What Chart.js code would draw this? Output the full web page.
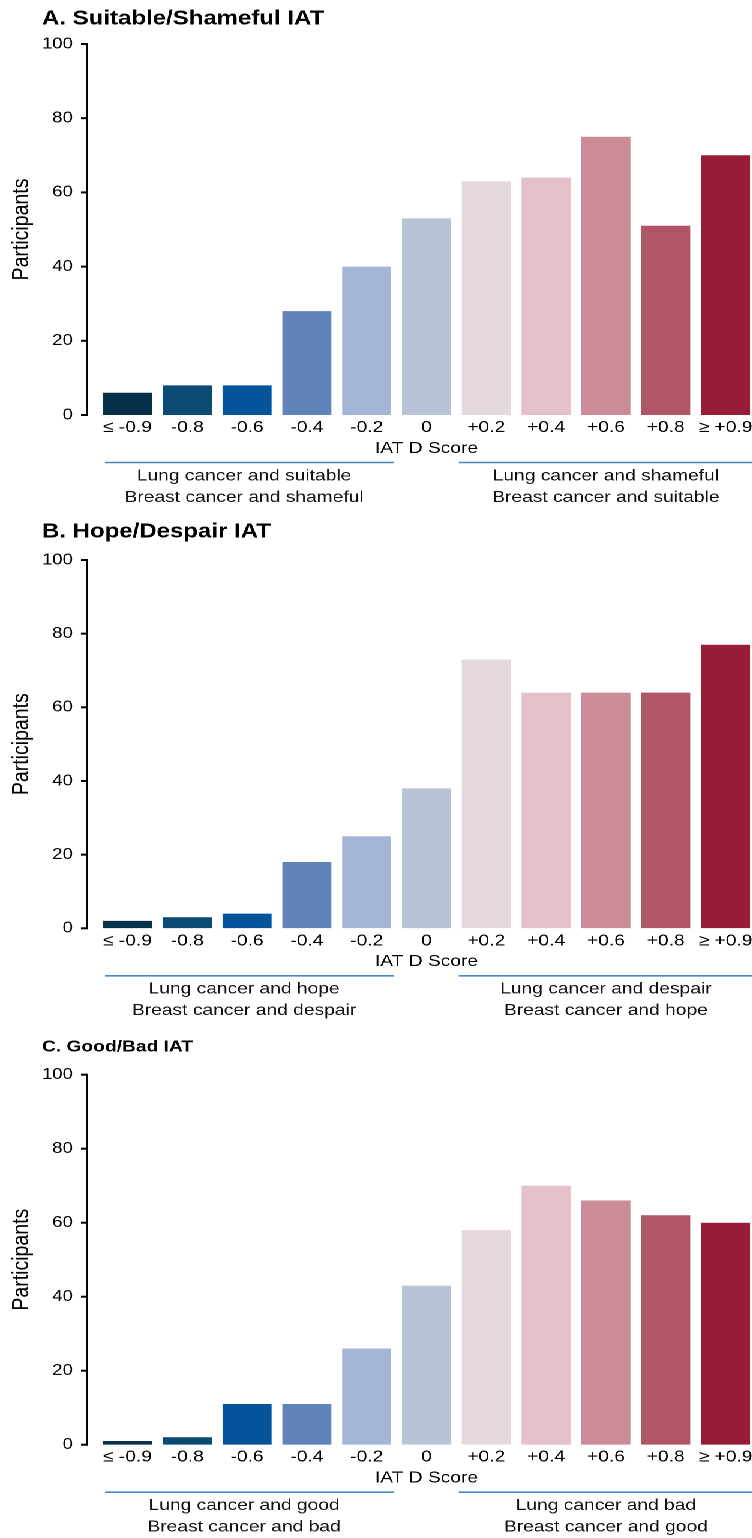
<!DOCTYPE html>
<html>
<head>
<meta charset="utf-8">
<script src="https://cdn.jsdelivr.net/npm/chart.js@4.4.1/dist/chart.umd.min.js"></script>
<style>
html,body{margin:0;padding:0;background:#fff;overflow:hidden;width:752px;height:1538px;}
#wrap{position:absolute;left:0;top:0;width:630px;transform:scaleX(1.2);transform-origin:0 0;}
canvas{display:block;}
</style>
</head>
<body>
<div id="wrap">
<canvas id="cA" width="630" height="512"></canvas>
<canvas id="cB" width="630" height="518"></canvas>
<canvas id="cC" width="630" height="508"></canvas>
</div>
<script>
// ---- data ----
const categories = ['\u2264 -0.9', '-0.8', '-0.6', '-0.4', '-0.2', '0', '+0.2', '+0.4', '+0.6', '+0.8', '\u2265 +0.9'];
const barColors = ['#07304a', '#0b4a72', '#03549a', '#5f83b8', '#a3b6d8', '#b9c3d6', '#e6d9dd', '#e4c0c8', '#cb8b98', '#b05566', '#971c37'];
const suitableShameful = [6, 8, 8, 28, 40, 53, 63, 64, 75, 51, 70];
const hopeDespair = [2, 3, 4, 18, 25, 38, 73, 64, 64, 64, 77];
const goodBad = [1, 2, 11, 11, 26, 43, 58, 70, 66, 62, 60];
const yMin = 0, yMax = 100, yStep = 20;
const xAxisTitle = 'IAT D Score';
const yAxisTitle = 'Participants';
const titleA = 'A. Suitable/Shameful IAT';
const titleB = 'B. Hope/Despair IAT';
const titleC = 'C. Good/Bad IAT';
const groupsA = [['Lung cancer and suitable', 'Breast cancer and shameful'], ['Lung cancer and shameful', 'Breast cancer and suitable']];
const groupsB = [['Lung cancer and hope', 'Breast cancer and despair'], ['Lung cancer and despair', 'Breast cancer and hope']];
const groupsC = [['Lung cancer and good', 'Breast cancer and bad'], ['Lung cancer and bad', 'Breast cancer and good']];

const FAMILY = '"Liberation Sans", Arial, Helvetica, sans-serif';

const decor = {
  id: 'decor',
  afterDraw(chart, args, o) {
    const {ctx, chartArea, scales} = chart;
    const x = scales.x, y = scales.y;
    ctx.save();
    // panel title
    ctx.fillStyle = '#000';
    ctx.font = o.titleFont;
    ctx.textAlign = 'left';
    ctx.textBaseline = 'middle';
    ctx.fillText(o.title, 35, o.titleY);
    // y axis line + ticks
    const ax = chartArea.left - 8.8;
    const yTop = y.getPixelForValue(yMax), yBot = y.getPixelForValue(yMin);
    ctx.strokeStyle = '#000';
    ctx.lineWidth = 1.7;
    ctx.beginPath(); ctx.moveTo(ax, yTop - 1); ctx.lineTo(ax, yBot + 1); ctx.stroke();
    ctx.lineWidth = 2;
    y.ticks.forEach(t => {
      const py = y.getPixelForValue(t.value);
      ctx.beginPath(); ctx.moveTo(ax - 5, py); ctx.lineTo(ax, py); ctx.stroke();
    });
    // group brackets
    const p0 = x.getPixelForValue(0), p4 = x.getPixelForValue(4), p6 = x.getPixelForValue(6), p10 = x.getPixelForValue(10);
    const cw = x.getPixelForValue(1) - p0;
    const lineY = chartArea.bottom + 47.5;
    ctx.strokeStyle = '#4a86c8';
    ctx.lineWidth = 1.6;
    ctx.beginPath(); ctx.moveTo(p0 - 0.375 * cw, lineY); ctx.lineTo(p4 + 0.45 * cw, lineY); ctx.stroke();
    ctx.beginPath(); ctx.moveTo(p6 - 0.46 * cw, lineY); ctx.lineTo(chartArea.right, lineY); ctx.stroke();
    ctx.fillStyle = '#111';
    ctx.font = '16px ' + FAMILY;
    ctx.textAlign = 'center';
    const lc = (p0 + p4) / 2 - 0.05 * cw, rc = (p6 + p10) / 2;
    ctx.fillText(o.groups[0][0], lc, chartArea.bottom + 61);
    ctx.fillText(o.groups[0][1], lc, chartArea.bottom + 82.5);
    ctx.fillText(o.groups[1][0], rc, chartArea.bottom + 61);
    ctx.fillText(o.groups[1][1], rc, chartArea.bottom + 82.5);
    ctx.restore();
  }
};

function makeChart(id, values, title, titleFont, titleY, groups, padTop, padBottom) {
  return new Chart(document.getElementById(id), {
    type: 'bar',
    data: {
      labels: categories,
      datasets: [{ data: values, backgroundColor: barColors, borderWidth: 0, barPercentage: 0.82, categoryPercentage: 1.0 }]
    },
    options: {
      responsive: false,
      animation: false,
      devicePixelRatio: 2,
      layout: { padding: { top: padTop, bottom: padBottom, left: 0, right: 0 } },
      plugins: {
        legend: { display: false },
        tooltip: { enabled: false },
        decor: { title: title, titleFont: titleFont, titleY: titleY, groups: groups }
      },
      scales: {
        x: {
          type: 'category',
          offset: true,
          grid: { display: false, drawTicks: false },
          border: { display: false },
          ticks: { color: '#000', font: { family: FAMILY, size: 16 }, padding: 3, maxRotation: 0, autoSkip: false },
          title: { display: true, text: xAxisTitle, color: '#000', font: { family: FAMILY, size: 16 }, padding: { top: 0, bottom: 2 } },
          afterFit: s => { s.height = 45; }
        },
        y: {
          min: yMin, max: yMax,
          grid: { display: false, drawTicks: false },
          border: { display: false },
          ticks: { stepSize: yStep, color: '#000', font: { family: FAMILY, size: 15.5 }, padding: 20.5 },
          title: { display: true, text: yAxisTitle, color: '#000', font: { family: FAMILY, size: 19.5 }, padding: { top: 6.6, bottom: 0 } },
          afterFit: s => { s.width = 81.3; }
        }
      }
    },
    plugins: [decor]
  });
}

makeChart('cA', suitableShameful, titleA, 'bold 20px ' + FAMILY, 19, groupsA, 44, 52);
makeChart('cB', hopeDespair, titleB, 'bold 20px ' + FAMILY, 20, groupsB, 48, 56.7);
makeChart('cC', goodBad, titleC, 'bold 16px ' + FAMILY, 17, groupsC, 44.7, 48.3);
</script>
</body>
</html>
